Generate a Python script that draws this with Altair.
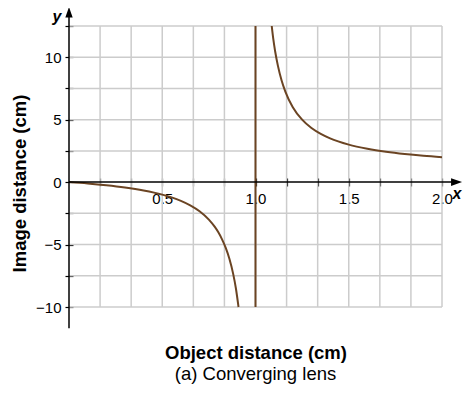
import altair as alt
import pandas as pd

# ---- values ----
left_x = [0.0, 0.1, 0.2, 0.3, 0.4, 0.5, 0.55, 0.6, 0.65, 0.7, 0.75, 0.78, 0.8, 0.82, 0.84, 0.86, 0.88, 0.895, 0.909]
left_y = [0.0, -0.11, -0.25, -0.43, -0.67, -1.0, -1.22, -1.5, -1.86, -2.33, -3.0, -3.55, -4.0, -4.56, -5.25, -6.14, -7.33, -8.52, -10.0]
right_x = [1.087, 1.095, 1.105, 1.12, 1.14, 1.16, 1.2, 1.25, 1.3, 1.35, 1.4, 1.5, 1.6, 1.7, 1.8, 1.9, 2.0]
right_y = [12.5, 11.5, 10.5, 9.33, 8.14, 7.25, 6.0, 5.0, 4.33, 3.86, 3.5, 3.0, 2.67, 2.43, 2.25, 2.11, 2.0]
asym_x = [1.0, 1.0]
asym_y = [-10.0, 12.5]

x_ticks = [1/6, 2/6, 3/6, 4/6, 5/6, 1.0, 7/6, 8/6, 9/6, 10/6, 11/6, 2.0]
y_ticks = [-10, -7.5, -5, -2.5, 0, 2.5, 5, 7.5, 10, 12.5]

x_title = "Object distance (cm)"
y_title = "Image distance (cm)"
caption = "(a) Converging lens"

FONT = "Liberation Sans"
BROWN = "#6b4423"
GRID = "#cccccc"

curve = pd.DataFrame(
    {"x": left_x + right_x + asym_x,
     "y": left_y + right_y + asym_y,
     "branch": ["left"] * len(left_x) + ["right"] * len(right_x) + ["asym"] * len(asym_x)}
)

xs = alt.Scale(domain=[0, 2], nice=False, zero=False)
ys = alt.Scale(domain=[-10, 12.5], nice=False, zero=False)

XA = alt.Axis(
    values=x_ticks, orient="bottom", offset=-129, tickSize=8, tickColor="black", tickWidth=1.2,
    domain=False, grid=False, labelPadding=5, labelFont=FONT, labelFontSize=15, labelColor="black",
    labelExpr="(abs(datum.value*2 - round(datum.value*2)) < 0.001) ? format(datum.value, '.1f') : ''",
    labelFlush=False, labelOverlap=False,
    title=x_title, titleFont=FONT, titleFontSize=18.5, titleFontWeight="bold", titleColor="black",
    titleX=186.5, titleY=180, titleBaseline="alphabetic", titleAlign="center",
)
YA = alt.Axis(
    values=y_ticks, orient="left", offset=-4, tickSize=8, tickColor="black", tickWidth=1.2,
    domain=False, grid=False, labelPadding=4, labelFont=FONT, labelFontSize=15, labelColor="black",
    labelExpr="(datum.value % 5 === 0) ? datum.label : ''", labelFlush=False, labelOverlap=False,
    title=y_title, titleFont=FONT, titleFontSize=18.5, titleFontWeight="bold", titleColor="black",
    titleX=-44, titleY=157, titleAngle=-90, titleAlign="center", titleBaseline="bottom",
)

vgrid = alt.Chart(pd.DataFrame({"gx": x_ticks})).mark_rule(color=GRID, strokeWidth=1.5).encode(
    x=alt.X("gx:Q", scale=xs, axis=XA),
    y=alt.YDatum(-10, scale=ys, axis=YA),
    y2=alt.Y2Datum(12.5),
)
hgrid = alt.Chart(pd.DataFrame({"gy": [v for v in y_ticks if v != 0]})).mark_rule(color=GRID, strokeWidth=1.5).encode(
    y=alt.Y("gy:Q", scale=ys, axis=YA),
    x=alt.XDatum(0, scale=xs, axis=XA),
    x2=alt.X2Datum(2),
)

lines = alt.Chart(curve).mark_line(color=BROWN, strokeWidth=2, interpolate="monotone").encode(
    x=alt.X("x:Q", scale=xs, axis=XA),
    y=alt.Y("y:Q", scale=ys, axis=YA),
    detail="branch:N",
)

axis_df = pd.DataFrame({"x1": [0.0, 0.0], "x2": [0.0, 2.075], "y1": [-11.7, 0.0], "y2": [13.6, 0.0]})
axis_lines = alt.Chart(axis_df).mark_rule(color="black", strokeWidth=1.5).encode(
    x=alt.X("x1:Q", scale=xs, axis=XA), x2="x2:Q",
    y=alt.Y("y1:Q", scale=ys, axis=YA), y2="y2:Q",
)

arrow_up = alt.Chart(pd.DataFrame({"x": [0.0], "y": [13.6]})).mark_point(
    shape="M0,-1L0.7,1L-0.7,1Z", size=110, filled=True, color="black", opacity=1
).encode(x=alt.X("x:Q", scale=xs, axis=XA), y=alt.Y("y:Q", scale=ys, axis=YA))
arrow_right = alt.Chart(pd.DataFrame({"x": [2.078], "y": [0.0]})).mark_point(
    shape="M1,0L-1,0.7L-1,-0.7Z", size=121, filled=True, color="black", opacity=1
).encode(x=alt.X("x:Q", scale=xs, axis=XA), y=alt.Y("y:Q", scale=ys, axis=YA))

axis_names = pd.DataFrame({"x": [-0.064, 2.08], "y": [13.2, -0.96], "t": ["y", "x"]})
names = alt.Chart(axis_names).mark_text(
    font=FONT, fontSize=16, fontWeight="bold", fontStyle="italic", color="black", baseline="middle", align="center"
).encode(x=alt.X("x:Q", scale=xs, axis=XA), y=alt.Y("y:Q", scale=ys, axis=YA), text="t:N")

chart = alt.layer(vgrid, hgrid, lines, axis_lines, arrow_up, arrow_right, names).properties(
    width=373, height=281,
    padding={"left": 61, "top": 18, "right": 21, "bottom": 80},
    autosize=alt.AutoSizeParams(type="none"),
    title=alt.TitleParams(caption, orient="bottom", anchor="middle", font=FONT, fontSize=18.5,
                          fontWeight="normal", color="black", offset=3),
).configure_view(stroke=None)

chart.save("out.html", embed_options={"renderer": "svg", "actions": False})
